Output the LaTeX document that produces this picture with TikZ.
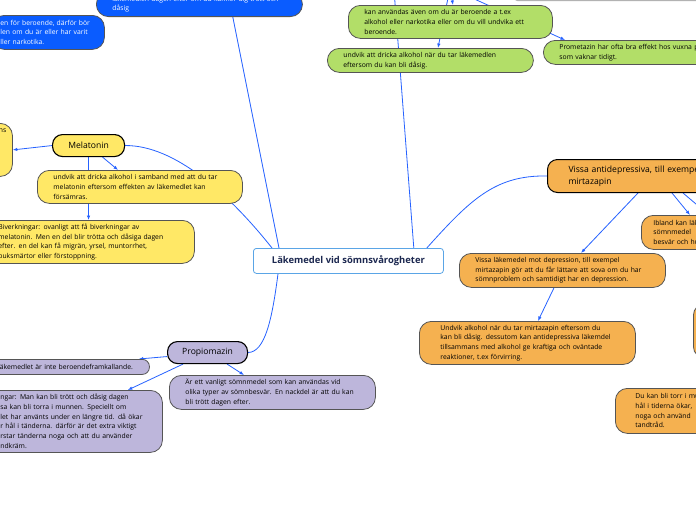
\documentclass[tikz,border=0pt]{standalone}
\usepackage{fontspec}
\setmainfont{Open Sans}
\usepackage{tikz}
\usetikzlibrary{positioning,arrows.meta,backgrounds}
\definecolor{linkblue}{RGB}{38,98,255}
\definecolor{boxblue}{RGB}{10,92,255}
\definecolor{leaf}{RGB}{178,222,104}
\definecolor{sun}{RGB}{255,232,102}
\definecolor{peach}{RGB}{245,177,80}
\definecolor{lilac}{RGB}{189,182,219}
\definecolor{frame}{RGB}{85,85,85}
\definecolor{rootline}{RGB}{90,165,230}
\definecolor{rootink}{RGB}{28,40,80}

\begin{document}
\begin{tikzpicture}[x=1pt,y=-1pt,
  note/.style={draw=frame,line width=0.8pt,rounded corners=12pt,anchor=north west,align=left,
    inner xsep=16pt,inner ysep=0pt,font=\fontsize{6.8}{9.7}\selectfont},
  topic/.style={draw=black,line width=1.1pt,rounded corners=10pt,anchor=north west,
    font=\fontsize{8.6}{12}\selectfont},
  link/.style={draw=linkblue,line width=0.8pt},
  arrowlink/.style={link,-{Latex[length=4.5pt,width=3.5pt]}}]
  \useasboundingbox (0,0) rectangle (696,520);
  \clip (0,0) rectangle (696,520);
  % centre
  \node[draw=rootline,fill=white,line width=0.8pt,rounded corners=3pt,anchor=north west,
    minimum width=190pt,minimum height=25pt,text=rootink,
    font=\bfseries\fontsize{9.4}{11}\selectfont] (C) at (253,248) {Läkemedel vid sömnsvårogheter};
  % blue branch
  \node[note,fill=boxblue,text=white,anchor=south west,text width=174pt,inner ysep=4pt] (B1) at (96,17)
    {läkemedlen dagen efter om du känner dig trött och\\dåsig};
  \node[note,fill=boxblue,text=white,inner xsep=8pt,text width=96pt,minimum height=34pt] (B2) at (-8,15)
    {en för beroende, därför bör\\len om du är eller har varit\\ller narkotika.};
  \node[draw=black!30,fill=white,line width=0.8pt,rounded corners=4pt,anchor=south west,
    minimum width=260pt,minimum height=30pt] (TR) at (513,1) {};
  % green branch
  \coordinate (green) at (450,-12);
  \coordinate (greenin) at (394,-10);
  \node[note,fill=leaf,text width=172pt,minimum height=33pt] (G1) at (348,5)
    {kan användas även om du är beroende a t.ex\\alkohol eller narkotika eller om du vill undvika ett\\beroende.};
  \node[note,fill=leaf,text width=174pt,minimum height=24pt] (G2) at (327,48)
    {undvik att dricka alkohol när du tar läkemedlen\\eftersom du kan bli dåsig.};
  \node[note,fill=leaf,text width=180pt,minimum height=24pt] (G3) at (543,40)
    {Prometazin har ofta bra effekt hos vuxna personer\\som vaknar tidigt.};
  % melatonin
  \node[topic,fill=sun,minimum width=72pt,minimum height=22pt] (M) at (52,134) {Melatonin};
  \node[note,fill=sun,align=right,inner xsep=6pt,text width=60pt,minimum height=53pt] (YL) at (-60,123)
    {ns\\~\\~\\~\\~};
  \node[note,fill=sun,text width=173pt,minimum height=33pt] (Y1) at (37,170)
    {undvik att dricka alkohol i samband med att du tar\\melatonin eftersom effekten av läkemedlet kan\\försämras.};
  \node[note,fill=sun,text width=180pt,minimum height=43pt] (Y2) at (-18,220)
    {Biverkningar: ovanligt att få biverkningar av\\melatonin. Men en del blir trötta och dåsiga dagen\\efter. en del kan få migrän, yrsel, muntorrhet,\\buksmärtor eller förstoppning.};
  % antidepressiva
  \node[topic,fill=peach,line width=1pt,align=left,inner xsep=21pt,text width=180pt,minimum height=33pt] (O1) at (547,159)
    {Vissa antidepressiva, till exempel\\mirtazapin};
  \node[note,fill=peach,text width=174pt,minimum height=34pt] (O2) at (459,253)
    {Vissa läkemedel mot depression, till exempel\\mirtazapin gör att du får lättare att sova om du har\\sömnproblem och samtidigt har en depression.};
  \node[note,fill=peach,inner xsep=21pt,text width=174pt,minimum height=43pt] (O3) at (419,321)
    {Undvik alkohol när du tar mirtazapin eftersom du\\kan bli dåsig. dessutom kan antidepressiva läkemdel\\tillsammans med alkohol ge kraftiga och oväntade\\reaktioner, t.ex förvirring.};
  \node[note,fill=peach,inner xsep=12pt,text width=100pt,minimum height=34pt] (O4) at (641,215)
    {Ibland kan läkemedlet\\sömnmedel\\besvär och huvudvärk};
  \node[note,fill=peach,text width=100pt,minimum height=55pt] (O5) at (693,303) {};
  \node[note,fill=peach,inner xsep=20pt,text width=100pt,minimum height=45pt] (O6) at (615,388)
    {Du kan bli torr i munnen\\hål i tiderna ökar,\\noga och använd\\tandtråd.};
  % propiomazin
  \node[topic,fill=lilac,minimum width=80pt,minimum height=22pt] (PR) at (167,341) {Propiomazin};
  \node[note,fill=lilac,rounded corners=7pt,text width=137pt,minimum height=15pt] (P1) at (-20,359)
    {Läkemedlet är inte beroendeframkallande.};
  \node[note,fill=lilac,text width=146pt,minimum height=62pt] (P2) at (-16,390)
    {ngar: Man kan bli trött och dåsig dagen\\sa kan bli torra i munnen. Speciellt om\\let har använts under en längre tid. då ökar\\r hål i tänderna. därför är det extra viktigt\\rstar tänderna noga och att du använder\\ndkräm.};
  \node[note,fill=lilac,text width=174pt,minimum height=34pt] (P3) at (169,375)
    {Är ett vanligt sömnmedel som kan användas vid\\olika typer av sömnbesvär. En nackdel är att du kan\\bli trött dagen efter.};

  \begin{scope}[on background layer]
    \fill[white] (0,0) rectangle (696,520);
    \draw[link] ([xshift=26pt]C.north west) -- ([xshift=-70pt]B1.south east);
    \draw[link] ([xshift=-30pt]C.north east) -- (greenin);
    \draw[link] ([xshift=19pt]C.north west) .. controls (230,195) and (175,145) .. (M.east);
    \draw[link] ([xshift=-17pt]C.north east) .. controls (470,200) and (495,175) .. (O1.west);
    \draw[link] ([xshift=25pt]C.south west) .. controls (272,320) and (265,352) .. (PR.east);
    \draw[arrowlink] (green) -- ([xshift=105pt]G1.north west);
    \draw[arrowlink] (green) -- ([xshift=111pt]G2.north west);
    \draw[arrowlink] (green) -- ([xshift=22pt]G3.north west);
    \draw[arrowlink] (M.west) -- (YL.east);
    \draw[arrowlink] ([xshift=14pt]M.south) -- ([xshift=81pt]Y1.north west);
    \draw[arrowlink] (M.south) -- (M.south |- Y2.north);
    \draw[arrowlink] ([xshift=91pt]O1.south west) -- ([xshift=122pt]O2.north west);
    \draw[arrowlink] ([xshift=125pt]O1.south west) -- ([xshift=49pt]O4.north west);
    \draw[arrowlink] ([xshift=136pt]O1.south west) -- ([xshift=120pt]O5.north west);
    \draw[arrowlink] ([xshift=95pt]O2.south west) -- ([xshift=119pt]O3.north west);
    \draw[arrowlink] ([yshift=-4pt]PR.west) -- ([xshift=-11pt]P1.north east);
    \draw[arrowlink] ([xshift=16pt]PR.south west) -- ([xshift=-35pt]P2.north east);
    \draw[arrowlink] ([xshift=-21pt]PR.south east) -- ([xshift=75pt]P3.north west);
  \end{scope}
\end{tikzpicture}
\end{document}
